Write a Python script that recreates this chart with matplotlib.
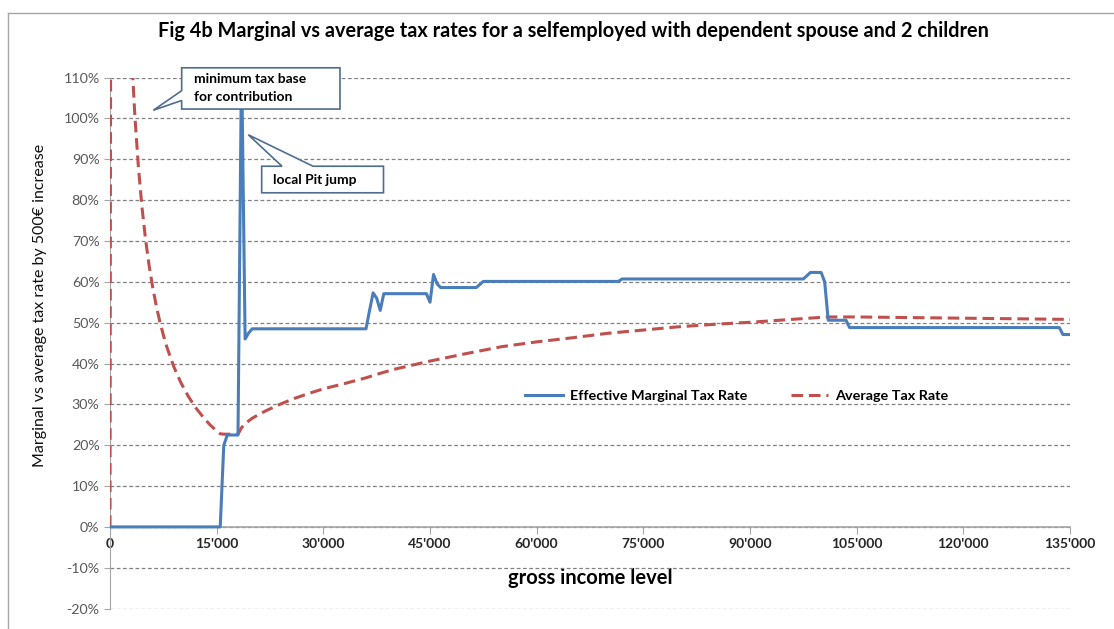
import matplotlib.pyplot as plt
from matplotlib.patches import Polygon
from matplotlib.lines import Line2D
from matplotlib.ticker import FuncFormatter, MultipleLocator

plt.rcParams['font.family'] = ['Lato', 'DejaVu Sans']

# gross income (EUR) and effective marginal tax rate (%)
marg_income = [0, 15000, 15500, 16000, 16500, 18000, 18500, 19000, 19500, 20000,
               36000, 36500, 37000, 37500, 38000, 38500, 44500, 45000, 45500, 46000,
               46500, 51500, 52500, 71500, 72000, 97500, 98500, 100000, 100500, 101000,
               103500, 104000, 133500, 134000, 135000]
marg_rate = [0, 0, 0, 20, 22.5, 22.5, 115, 46, 47.5, 48.5,
             48.5, 53, 57.3, 56, 53, 57.1, 57.1, 55, 61.8, 59.5,
             58.6, 58.6, 60.1, 60.1, 60.7, 60.7, 62.3, 62.3, 60, 50.6,
             50.6, 48.8, 48.8, 47.1, 47.1]

# gross income (EUR) and average tax rate (%)
avg_income = [0, 500, 1000, 1500, 2000, 2500, 3000, 3500, 4000, 4500,
              5000, 5500, 6000, 6500, 7000, 7500, 8000, 9000, 10000, 11000,
              12000, 13000, 14000, 15000, 15500, 16000, 17000, 18000, 18500, 19000,
              20000, 21000, 22000, 24000, 26000, 28000, 30000, 33000, 36000, 38000,
              40000, 42500, 45000, 47500, 50000, 55000, 60000, 65000, 70000, 75000,
              80000, 85000, 90000, 95000, 100000, 101000, 105000, 110000, 115000, 120000,
              125000, 130000, 135000]
avg_rate = [0, 700, 350, 235, 176, 141, 117, 100.5, 88, 78.2,
            70.4, 64, 58.7, 54.2, 50.3, 47, 44, 39.1, 35.2, 32,
            29.3, 27.1, 25.1, 23.5, 22.8, 22.7, 22.7, 22.7, 24.3, 25.3,
            26.6, 27.6, 28.5, 30.1, 31.5, 32.7, 33.8, 35.1, 36.5, 37.6,
            38.6, 39.6, 40.6, 41.5, 42.4, 44.1, 45.3, 46.3, 47.4, 48.2,
            49, 49.6, 50.1, 50.7, 51.3, 51.4, 51.4, 51.3, 51.2, 51.1,
            51.0, 50.9, 50.8]

title = "Fig 4b Marginal vs average tax rates for a selfemployed with dependent spouse and 2 children"

fig = plt.figure(figsize=(11.14, 6.29), dpi=100)
ax = fig.add_axes([110 / 1114, 20.4 / 629, 960 / 1114, 531 / 629])

ax.plot(marg_income, marg_rate, color='#4a7ebb', lw=2.2, solid_joinstyle='round',
        label='Effective Marginal Tax Rate', zorder=4)
ax.plot(avg_income, avg_rate, color='#c0504d', lw=2.2, dashes=(3.8, 1.9),
        label='Average Tax Rate', zorder=3)

ax.set_xlim(0, 135000)
ax.set_ylim(-20, 110)
ax.yaxis.set_major_locator(MultipleLocator(10))
ax.xaxis.set_major_locator(MultipleLocator(15000))
ax.yaxis.set_major_formatter(FuncFormatter(lambda v, p: f"{v:.0f}%"))
ax.xaxis.set_major_formatter(FuncFormatter(lambda v, p: f"{v:,.0f}".replace(',', "'")))

ax.grid(axis='y', color='#808080', lw=0.9, dashes=(3, 2))
ax.set_axisbelow(True)
for s in ['top', 'right']:
    ax.spines[s].set_visible(False)
ax.spines['bottom'].set_position(('data', 0))
ax.spines['bottom'].set_color('#a6a6a6')
ax.spines['left'].set_color('#a6a6a6')
ax.spines['bottom'].set_linewidth(1.2)
ax.tick_params(axis='y', colors='#a6a6a6', labelcolor='#595959', labelsize=10.3, length=4)
ax.tick_params(axis='x', colors='#a6a6a6', labelcolor='#262626', labelsize=10, length=5, pad=3)
for t in ax.get_xticklabels():
    t.set_fontweight('bold')

ax.set_ylabel('Marginal vs average tax rate by 500€ increase', fontsize=11.5, color='#111111',
              va='center')
ax.yaxis.set_label_coords(-0.0725, 0.57)
ax.set_xlabel('gross income level', fontsize=14.5, fontweight='bold', va='center')
ax.xaxis.set_label_coords(0.5, 0.058)

fig.text(0.515, 1 - 31 / 629, title, ha='center', va='center', fontsize=14.3, fontweight='bold')

leg = ax.legend(loc='center left', bbox_to_anchor=(0.419, 0.40), ncol=2, frameon=False,
                fontsize=10.4, handlelength=2.6, handletextpad=0.5, columnspacing=3.0)
for t in leg.get_texts():
    t.set_fontweight('bold')

# callout boxes with pointer wedges
callout_kw = dict(closed=True, facecolor='white', edgecolor='#4f6d91', lw=1.2,
                  clip_on=False, zorder=6)
ax.add_patch(Polygon([(10080, 112.4), (32340, 112.4), (32340, 102.3), (10080, 102.3),
                      (10080, 104.4), (6090, 102.0), (10080, 106.8)], **callout_kw))
ax.text(11800, 109.6, 'minimum tax base', fontsize=10, fontweight='bold', va='center', zorder=7)
ax.text(11800, 105.2, 'for contribution', fontsize=10, fontweight='bold', va='center', zorder=7)

ax.add_patch(Polygon([(21330, 88.3), (24190, 88.3), (19450, 96.0), (28550, 88.3),
                      (38460, 88.3), (38460, 81.8), (21330, 81.8)], **callout_kw))
ax.text(22900, 85.0, 'local Pit jump', fontsize=10, fontweight='bold', va='center', zorder=7)

# chart frame
fig.add_artist(Line2D([8 / 1114, 8 / 1114], [0, 1 - 13 / 629], transform=fig.transFigure,
                      color='#a6a6a6', lw=1))
fig.add_artist(Line2D([8 / 1114, 1], [1 - 13 / 629, 1 - 13 / 629], transform=fig.transFigure,
                      color='#a6a6a6', lw=1))

fig.savefig('out.png', dpi=100)
